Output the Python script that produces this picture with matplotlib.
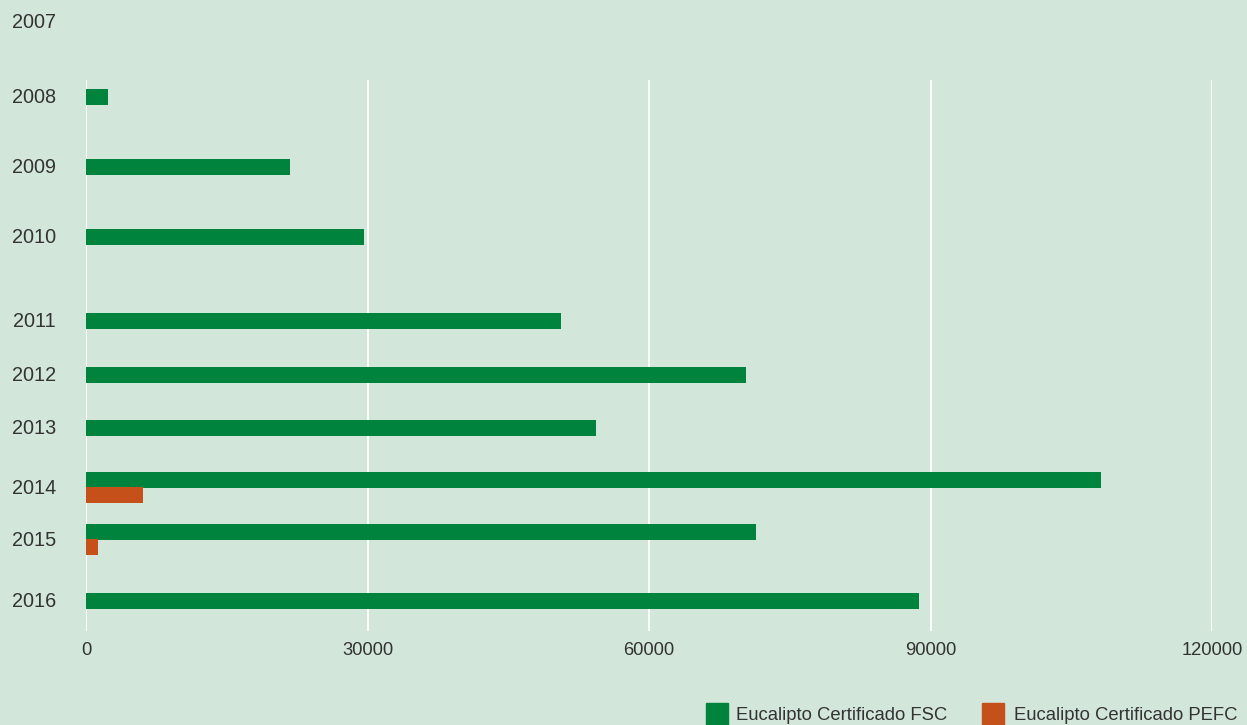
import matplotlib
matplotlib.use("Agg")
import matplotlib.pyplot as plt
from matplotlib.patches import Rectangle

# Data (hectares)
years = ["2007", "2008", "2009", "2010", "2011", "2012", "2013", "2014", "2015", "2016"]
fsc = [0, 2300, 21700, 29600, 50600, 70300, 54300, 108200, 71400, 88800]
pefc = [0, 0, 0, 0, 0, 0, 0, 6100, 1300, 0]
xticks = [0, 30000, 60000, 90000, 120000]

# Layout: row centres in pixels from the top of the figure (irregular in the original)
label_y = [22, 97, 167, 237, 321, 375, 428, 488, 540, 601]
W, H = 1247, 725
BG = "#d3e6da"
GREEN = "#00843d"
ORANGE = "#c5501a"
TXT = "#333333"

plt.rcParams["font.family"] = ["Liberation Sans", "DejaVu Sans"]

fig = plt.figure(figsize=(W / 100, H / 100), dpi=100, facecolor=BG)
top, bottom = 80, 631
ax = fig.add_axes([86 / W, 1 - bottom / H, (1212 - 86) / W, (bottom - top) / H])
ax.set_facecolor(BG)
ax.set_xlim(0, 120000)
ax.set_ylim(bottom, top)  # pixel rows, inverted

bh = 16
for yr, f, p, y in zip(years, fsc, pefc, label_y):
    if p > 0:
        ax.barh(y - 8, f, height=bh, color=GREEN, zorder=3)
        ax.barh(y + 7, p, height=bh, color=ORANGE, zorder=3)
    elif f > 0:
        ax.barh(y, f, height=bh, color=GREEN, zorder=3)
    ax.text(-3200, y, yr, ha="right", va="center", fontsize=14.3, color=TXT, clip_on=False)

for t in xticks:
    ax.axvline(t, color="white", lw=1.3, zorder=1)

ax.set_xticks(xticks)
ax.set_xticklabels([str(t) for t in xticks], fontsize=13.2, color=TXT)
ax.tick_params(axis="x", length=0, pad=8)
ax.set_yticks([])
for s in ax.spines.values():
    s.set_visible(False)

# legend
def legend_item(x, tx, label, color):
    fig.patches.append(Rectangle((x / W, 0), 22 / W, 22 / H, transform=fig.transFigure,
                                 color=color, figure=fig))
    fig.text(tx / W, 1 - 715 / H, label, ha="left", va="center",
             fontsize=13.3, color=TXT)

legend_item(706, 736, "Eucalipto Certificado FSC", GREEN)
legend_item(982, 1014, "Eucalipto Certificado PEFC", ORANGE)

fig.savefig("out.png", dpi=100, facecolor=BG)
